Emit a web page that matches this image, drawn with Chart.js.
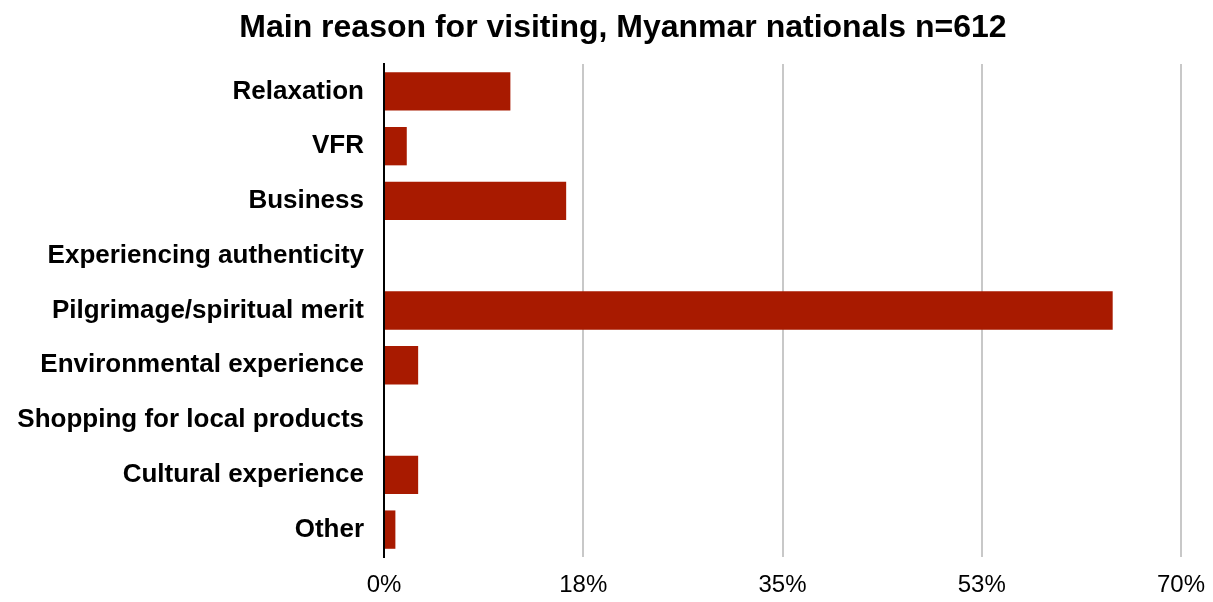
<!DOCTYPE html>
<html lang="en">
<head>
    <meta charset="UTF-8">
    <title>Main reason for visiting, Myanmar nationals n=612</title>
    <script src="https://cdn.jsdelivr.net/npm/chart.js"></script>
    <style>
        * { margin: 0; padding: 0; box-sizing: border-box; }
        body { background: #fff; }
        .chart-box { width: 1213px; height: 602px; position: relative; }
    </style>
</head>
<body>
    <div class="chart-box">
        <canvas id="chart"></canvas>
    </div>

    <script>
        // Data (share of respondents, %)
        const categories = [
            'Relaxation',
            'VFR',
            'Business',
            'Experiencing authenticity',
            'Pilgrimage/spiritual merit',
            'Environmental experience',
            'Shopping for local products',
            'Cultural experience',
            'Other'
        ];
        const shares = [11.1, 2.0, 16.0, 0, 64.0, 3.0, 0, 3.0, 1.0];
        const tickValues = [0, 17.5, 35, 52.5, 70];

        const titleText = 'Main reason for visiting, Myanmar nationals n=612';
        const font = "'Liberation Sans', Arial, Helvetica, sans-serif";

        // The reference title sits a bit right of the canvas centre, so draw it by hand
        const offsetTitle = {
            id: 'offsetTitle',
            afterDraw(chart) {
                const ctx = chart.ctx;
                ctx.save();
                ctx.fillStyle = '#000';
                ctx.font = 'bold 32px ' + font;
                ctx.textAlign = 'center';
                ctx.textBaseline = 'middle';
                ctx.fillText(titleText, 623, 28);
                ctx.restore();
            }
        };

        new Chart(document.getElementById('chart'), {
            type: 'bar',
            data: {
                labels: categories,
                datasets: [{
                    data: shares,
                    backgroundColor: '#a81a00',
                    borderWidth: 0,
                    barPercentage: 0.7,
                    categoryPercentage: 1
                }]
            },
            options: {
                indexAxis: 'y',
                responsive: true,
                maintainAspectRatio: false,
                animation: false,
                layout: { padding: { left: 0, right: 32, top: 64, bottom: 0 } },
                plugins: {
                    legend: { display: false },
                    tooltip: { enabled: false },
                    title: { display: false }
                },
                scales: {
                    x: {
                        min: 0,
                        max: 70,
                        afterBuildTicks: axis => {
                            axis.ticks = tickValues.map(v => ({ value: v }));
                        },
                        afterFit: axis => {
                            axis.height = 45;
                            axis.paddingLeft = 0;
                            axis.paddingRight = 0;
                        },
                        grid: {
                            color: '#c8c8c8',
                            lineWidth: 2,
                            drawTicks: false
                        },
                        border: { display: false },
                        ticks: {
                            color: '#000',
                            padding: 14,
                            font: { family: font, size: 24 },
                            callback: v => Math.round(v) + '%'
                        }
                    },
                    y: {
                        afterFit: axis => {
                            axis.width = 384;
                            axis.paddingTop = 0;
                            axis.paddingBottom = 0;
                        },
                        grid: { display: false, drawTicks: false },
                        border: { display: true, color: '#000', width: 2 },
                        ticks: {
                            color: '#000',
                            padding: 20,
                            font: { family: font, size: 26, weight: 'bold' }
                        }
                    }
                }
            },
            plugins: [offsetTitle]
        });
    </script>
</body>
</html>
